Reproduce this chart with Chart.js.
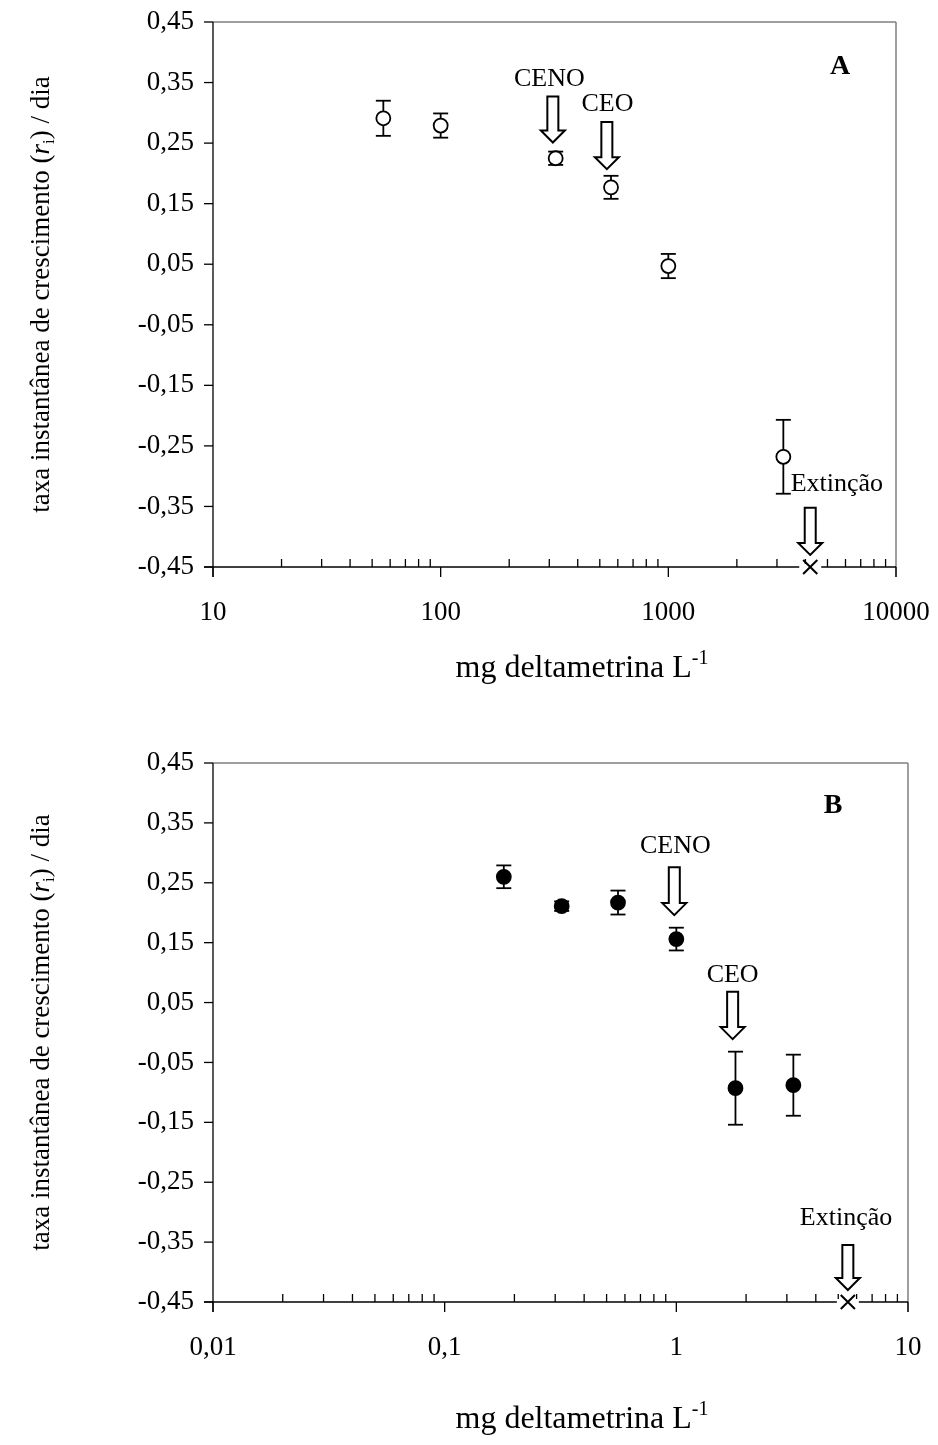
<!DOCTYPE html>
<html><head><meta charset="utf-8">
<script src="https://cdn.jsdelivr.net/npm/chart.js@4.4.1/dist/chart.umd.min.js"></script>
<style>
html,body{margin:0;padding:0;background:#fff;}
body{width:938px;height:1445px;position:relative;overflow:hidden;}
.panel{position:absolute;left:0;}
</style></head><body>
<div class="panel" style="top:0"><canvas id="cA" width="938" height="720"></canvas></div>
<div class="panel" style="top:720px"><canvas id="cB" width="938" height="725"></canvas></div>
<script>
// ---------- data ----------
const yTickValues = [-0.45,-0.35,-0.25,-0.15,-0.05,0.05,0.15,0.25,0.35,0.45];
const yTickLabels = ['-0,45','-0,35','-0,25','-0,15','-0,05','0,05','0,15','0,25','0,35','0,45'];

const concA = [56, 100, 320, 560, 1000, 3200];
const rateA = [0.291, 0.279, 0.225, 0.177, 0.047, -0.268];
const errA  = [0.029, 0.020, 0.011, 0.019, 0.020, 0.061];
const extinctA = 4200;
const xTicksA = [10, 100, 1000, 10000];
const xLabelsA = ['10', '100', '1000', '10000'];

const concB = [0.18, 0.32, 0.56, 1.0, 1.8, 3.2];
const rateB = [0.260, 0.211, 0.217, 0.156, -0.093, -0.088];
const errB  = [0.019, 0.008, 0.020, 0.019, 0.061, 0.051];
const extinctB = 5.5;
const xTicksB = [0.01, 0.1, 1, 10];
const xLabelsB = ['0,01', '0,1', '1', '10'];

const floorRate = -0.45;

const FONT = "'Liberation Serif','Times New Roman',serif";

// annotation layout (data coordinates)
const notesA = [
  {text:'CENO', arrowX:311, textX:300, top:0.327, tip:0.251, textY:0.356},
  {text:'CEO', arrowX:537, textX:540, top:0.285, tip:0.207, textY:0.315},
  {text:'Extinção', arrowX:extinctA, textX:5500, top:-0.352, tip:-0.430, textY:-0.313}
];
const notesB = [
  {text:'CENO', arrowX:0.98, textX:0.99, top:0.276, tip:0.196, textY:0.311},
  {text:'CEO', arrowX:1.75, textX:1.75, top:0.068, tip:-0.011, textY:0.096},
  {text:'Extinção', arrowX:extinctB, textX:5.4, top:-0.355, tip:-0.430, textY:-0.31}
];

function line(ctx,x1,y1,x2,y2){ctx.beginPath();ctx.moveTo(x1,y1);ctx.lineTo(x2,y2);ctx.stroke();}

function drawArrow(ctx,x,yTop,yTip){
  const sw=5.5, hw=12, hl=12;
  ctx.beginPath();
  ctx.moveTo(x-sw,yTop);ctx.lineTo(x+sw,yTop);ctx.lineTo(x+sw,yTip-hl);
  ctx.lineTo(x+hw,yTip-hl);ctx.lineTo(x,yTip);ctx.lineTo(x-hw,yTip-hl);
  ctx.lineTo(x-sw,yTip-hl);ctx.closePath();
  ctx.fillStyle='#fff';ctx.fill();
  ctx.lineWidth=2;ctx.strokeStyle='#000';ctx.lineJoin='miter';ctx.stroke();
}

function fontOf(p,size){
  const s = (p.sub||p.sup)? Math.round(size*0.62) : size;
  return (p.italic?'italic ':'') + (p.bold?'bold ':'') + s + 'px ' + FONT;
}
function drawRich(ctx,parts,cx,baseline,size){
  let total=0;
  const ws = parts.map(p=>{ctx.font=fontOf(p,size);const w=ctx.measureText(p.t).width;total+=w;return w;});
  let x = cx-total/2;
  ctx.textAlign='left';ctx.textBaseline='alphabetic';ctx.fillStyle='#000';
  parts.forEach((p,i)=>{
    ctx.font=fontOf(p,size);
    const dy = p.sub? size*0.2 : (p.sup? -size*0.42 : 0);
    ctx.fillText(p.t,x,baseline+dy);
    x+=ws[i];
  });
}

const yTitle = [{t:'taxa instantânea de crescimento ('},{t:'r',italic:true},{t:'i',sub:true},{t:') / dia'}];
const xTitle = [{t:'mg deltametrina L'},{t:'-1',sup:true}];

const panelPlugin = {
  id:'panel',
  beforeDatasetsDraw(chart){
    const o = chart.options.plugins.panel;
    const {ctx, chartArea:a} = chart;
    const x = chart.scales.x, y = chart.scales.y;
    ctx.save();
    ctx.lineCap='butt';
    // top & right frame (grey)
    ctx.strokeStyle='#7f7f7f';ctx.lineWidth=1.5;
    line(ctx,a.left,a.top,a.right,a.top);
    line(ctx,a.right,a.top,a.right,a.bottom+10);
    // y ticks
    ctx.strokeStyle='#000';ctx.lineWidth=1.3;
    yTickValues.forEach(v=>{const py=y.getPixelForValue(v);line(ctx,a.left-9,py,a.left,py);});
    // left axis
    line(ctx,a.left,a.top,a.left,a.bottom+10);
    // bottom axis
    line(ctx,a.left-9,a.bottom,a.right,a.bottom);
    // x ticks
    o.decades.forEach((d,i)=>{
      const px=x.getPixelForValue(d);
      line(ctx,px,a.bottom,px,a.bottom+10);
      if(i<o.decades.length-1){
        for(let k=2;k<=9;k++){const mx=x.getPixelForValue(d*k);line(ctx,mx,a.bottom,mx,a.bottom-8);}
      }
    });
    // clear behind extinction marker
    const ex=x.getPixelForValue(o.extinct), ey=y.getPixelForValue(floorRate);
    ctx.fillStyle='#fff';ctx.fillRect(ex-11,ey-3,22,6);
    // error bars
    const ds = chart.data.datasets[0];
    ctx.strokeStyle='#000';ctx.lineWidth=1.8;
    ds.data.forEach((pt,i)=>{
      const e=ds.errors[i];
      const px=x.getPixelForValue(pt.x);
      const y1=y.getPixelForValue(pt.y+e), y2=y.getPixelForValue(pt.y-e);
      line(ctx,px,y1,px,y2);
      line(ctx,px-7.5,y1,px+7.5,y1);
      line(ctx,px-7.5,y2,px+7.5,y2);
    });
    ctx.restore();
  },
  afterDatasetsDraw(chart){
    const o = chart.options.plugins.panel;
    const {ctx, chartArea:a} = chart;
    const x = chart.scales.x, y = chart.scales.y;
    ctx.save();
    o.notes.forEach(n=>{
      const ax=x.getPixelForValue(n.arrowX);
      drawArrow(ctx,ax,y.getPixelForValue(n.top),y.getPixelForValue(n.tip));
      ctx.font='26px '+FONT;ctx.fillStyle='#000';ctx.textAlign='center';ctx.textBaseline='middle';
      ctx.fillText(n.text,x.getPixelForValue(n.textX),y.getPixelForValue(n.textY));
    });
    // panel letter
    ctx.font='bold 28px '+FONT;ctx.textAlign='center';ctx.textBaseline='middle';
    ctx.fillText(o.letter,a.right-o.letterDx,a.top+o.letterDy);
    // y title
    ctx.save();
    ctx.translate(40,(a.top+a.bottom)/2);
    ctx.rotate(-Math.PI/2);
    drawRich(ctx,yTitle,0,9,27);
    ctx.restore();
    // x title
    drawRich(ctx,xTitle,582,o.xTitleY+10,32);
    ctx.restore();
  }
};
Chart.register(panelPlugin);

function makeChart(id,conc,rate,err,extinct,decades,labels,opts){
  const pts = conc.map((c,i)=>({x:c,y:rate[i]}));
  return new Chart(document.getElementById(id),{
    type:'scatter',
    data:{datasets:[
      {data:pts, errors:err, pointStyle:'circle', pointRadius:7, pointHoverRadius:7,
       pointBackgroundColor:opts.fill, pointBorderColor:'#000', pointBorderWidth:1.8, clip:false},
      {data:[{x:extinct,y:floorRate}], pointStyle:'crossRot', pointRadius:10, pointHoverRadius:10,
       pointBorderColor:'#000', pointBorderWidth:2, clip:false}
    ]},
    options:{
      responsive:false, animation:false, devicePixelRatio:1,
      layout:{padding:{left:0,right:opts.right,top:opts.top,bottom:0}},
      plugins:{legend:{display:false},tooltip:{enabled:false},
        panel:{decades:decades, extinct:extinct, notes:opts.notes, letter:opts.letter,
               letterDx:opts.letterDx, letterDy:opts.letterDy, xTitleY:opts.xTitleY}},
      scales:{
        x:{type:'logarithmic', min:decades[0], max:decades[decades.length-1], position:'bottom',
           grid:{display:false,drawTicks:false}, border:{display:false},
           afterBuildTicks:s=>{s.ticks=decades.map(v=>({value:v}));},
           afterFit:s=>{s.height=opts.xh;s.paddingLeft=0;s.paddingRight=0;},
           ticks:{autoSkip:false,maxRotation:0,minRotation:0,padding:30,color:'#000',
                  font:{family:FONT,size:27},callback:(v,i)=>labels[i]}},
        y:{type:'linear', min:-0.45, max:0.45,
           grid:{display:false,drawTicks:false}, border:{display:false},
           afterBuildTicks:s=>{s.ticks=yTickValues.map(v=>({value:v}));},
           afterFit:s=>{s.width=213;s.paddingTop=0;s.paddingBottom=0;},
           ticks:{autoSkip:false,padding:19,color:'#000',
                  font:{family:FONT,size:27},callback:(v,i)=>yTickLabels[i]}}
      }
    }
  });
}

makeChart('cA',concA,rateA,errA,extinctA,xTicksA,xLabelsA,
  {fill:'#fff', right:42, top:22, xh:153, notes:notesA, letter:'A', letterDx:56, letterDy:45, xTitleY:667});
makeChart('cB',concB,rateB,errB,extinctB,xTicksB,xLabelsB,
  {fill:'#000', right:30, top:43, xh:143, notes:notesB, letter:'B', letterDx:75, letterDy:43, xTitleY:698});
</script>
</body></html>
